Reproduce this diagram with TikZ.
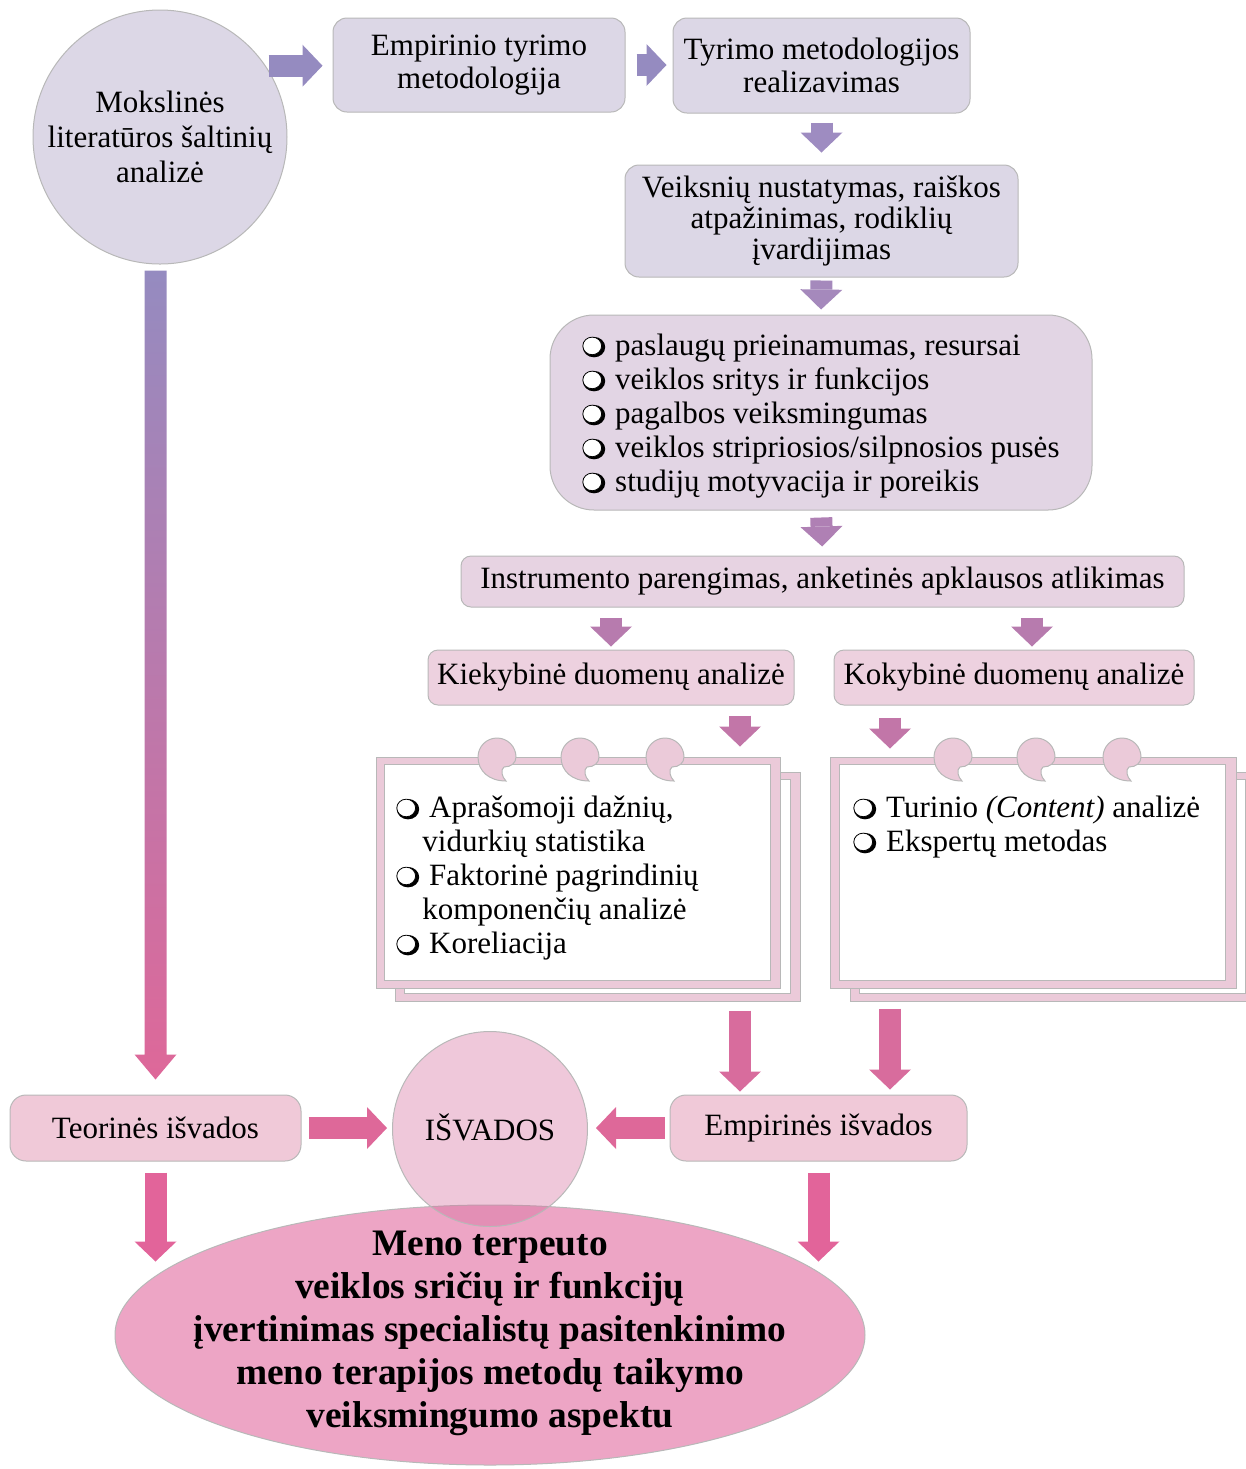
\documentclass[tikz,border=0pt]{standalone}
\usepackage{fontspec}
\setmainfont{Liberation Serif}
\usetikzlibrary{arrows.meta,shapes.geometric,calc}

\definecolor{lav}{HTML}{DCD7E6}
\definecolor{listfill}{HTML}{E2D5E4}
\definecolor{instrfill}{HTML}{E7D3E2}
\definecolor{kfill}{HTML}{EDD1DF}
\definecolor{padpink}{HTML}{EBCAD9}
\definecolor{teorfill}{HTML}{F0C9D8}
\definecolor{menofill}{HTML}{EDA5C5}
\definecolor{isvfill}{HTML}{D46A9A}
\definecolor{edge}{HTML}{B8B8B8}
\definecolor{arr1}{HTML}{958BC0}
\definecolor{arr2}{HTML}{9E8CC1}
\definecolor{arr3}{HTML}{A589BC}
\definecolor{arr4}{HTML}{AF80B4}
\definecolor{arr5}{HTML}{B77BAE}
\definecolor{arr6}{HTML}{C276A8}
\definecolor{arr7}{HTML}{D86C9D}
\definecolor{arr8}{HTML}{DE6899}
\definecolor{arr9}{HTML}{E2649A}

% shadowed circle bullet
\newcommand{\bul}{\tikz[x=1pt,y=1pt,baseline=-5pt]{\fill[black] (0.9,-0.6) ellipse[x radius=5.6,y radius=5.1];
  \filldraw[fill=white,draw=black,line width=0.4pt] (0,0) ellipse[x radius=4.7,y radius=4.4];}\hspace{5pt}}

\begin{document}
\begin{tikzpicture}[x=0.5pt,y=-0.5pt,
  box/.style={rectangle,rounded corners=7pt,draw=edge,line width=0.5pt,align=center,
    inner sep=0pt,font=\fontsize{15.5pt}{16.5pt}\selectfont},
  lav box/.style={box,fill=lav},
  list node/.style={inner sep=0pt,align=left,font=\fontsize{15.5pt}{17pt}\selectfont},
  pad/.style={rectangle,fill=padpink,draw=edge,line width=0.5pt,inner sep=0pt},
  curl/.style={fill=padpink,draw=edge,line width=0.5pt},
  blk/.style={line width=11pt,-{Triangle[length=10pt,width=21pt,line width=0pt]}}]

  \useasboundingbox (0,0) rectangle (1246,1469);

  % upper part
  \node[circle,fill=lav,draw=edge,line width=0.5pt,minimum size=127pt,inner sep=0pt,align=center,
    font=\fontsize{15.5pt}{17.5pt}\selectfont] (mok) at (160,137) {Mokslinės\\literatūros šaltinių\\analizė};
  \node[lav box,minimum width=146pt,minimum height=47pt] (emp) at (479,65) {Empirinio tyrimo\\metodologija};
  \node[lav box,minimum width=148.5pt,minimum height=47.5pt] (real) at (821.5,65.5) {Tyrimo metodologijos\\realizavimas};
  \node[lav box,minimum width=196.5pt,minimum height=56pt,font=\fontsize{15.5pt}{15.3pt}\selectfont] (veik) at (821.5,221)
    {Veiksnių nustatymas, raiškos\\atpažinimas, rodiklių\\įvardijimas};
  \node[box,fill=listfill,rounded corners=22pt,minimum width=271pt,minimum height=97.5pt] (sar) at (821,412.5) {};
  \node[list node] (sartxt) at ([yshift=-2pt]sar) {\bul paslaugų prieinamumas, resursai\\
    \bul veiklos sritys ir funkcijos\\
    \bul pagalbos veiksmingumas\\
    \bul veiklos stripriosios/silpnosios pusės\\
    \bul studijų motyvacija ir poreikis};
  \node[box,fill=instrfill,rounded corners=5pt,minimum width=361.5pt,minimum height=25.5pt] (instr) at (822.5,581.5)
    {Instrumento parengimas, anketinės apklausos atlikimas};
  \node[box,fill=kfill,rounded corners=5pt,minimum width=183pt,minimum height=27.5pt] (kiek) at (611,677.5) {Kiekybinė duomenų analizė};
  \node[box,fill=kfill,rounded corners=5pt,minimum width=180pt,minimum height=27.5pt] (kok) at (1014,677.5) {Kokybinė duomenų analizė};

  % note pads
  \node[pad,minimum width=202.5pt,minimum height=114.5pt] (padLb) at (597.5,886.5) {};
  \draw[fill=white,draw=edge,line width=0.5pt] ([shift={(5pt,-4pt)}]padLb.north west) rectangle ([shift={(-5pt,4pt)}]padLb.south east);
  \node[pad,minimum width=202pt,minimum height=115.5pt] (padL) at (578,872.5) {};
  \draw[fill=white,draw=edge,line width=0.5pt] ([shift={(4.5pt,-4pt)}]padL.north west) rectangle ([shift={(-5pt,4pt)}]padL.south east);
  \foreach \cx in {497,580,665}
    \draw[curl] (\cx-19,757) arc[start angle=180,end angle=0,radius=9.5pt]
      .. controls (\cx+19,763) and (\cx+14,767) .. (\cx+7,767)
      .. controls (\cx+3,770) and (\cx+5,777) .. (\cx+9,781)
      .. controls (\cx-8,781) and (\cx-19,771) .. cycle;
  \node[list node,anchor=north west] (padLtxt) at (396,796) {\bul Aprašomoji dažnių,\\
    \hspace*{13pt}vidurkių statistika\\
    \bul Faktorinė pagrindinių\\
    \hspace*{13pt}komponenčių analizė\\
    \bul Koreliacija};

  \node[pad,minimum width=202.5pt,minimum height=114.5pt] (padRb) at (1052.5,886.5) {};
  \draw[fill=white,draw=edge,line width=0.5pt] ([shift={(5pt,-4pt)}]padRb.north west) rectangle ([shift={(-5pt,4pt)}]padRb.south east);
  \node[pad,minimum width=203pt,minimum height=115.5pt] (padR) at (1033,872.5) {};
  \draw[fill=white,draw=edge,line width=0.5pt] ([shift={(5pt,-4pt)}]padR.north west) rectangle ([shift={(-5.5pt,4pt)}]padR.south east);
  \foreach \cx in {953,1036,1122}
    \draw[curl] (\cx-19,757) arc[start angle=180,end angle=0,radius=9.5pt]
      .. controls (\cx+19,763) and (\cx+14,767) .. (\cx+7,767)
      .. controls (\cx+3,770) and (\cx+5,777) .. (\cx+9,781)
      .. controls (\cx-8,781) and (\cx-19,771) .. cycle;
  \node[list node,anchor=north west] (padRtxt) at (853,796) {\bul Turinio \textit{(Content)} analizė\\
    \bul Ekspertų metodas};

  % lower part
  \node[box,fill=teorfill,rounded corners=8pt,minimum width=145.5pt,minimum height=33pt] (teor) at (155.5,1128) {Teorinės išvados};
  \node[box,fill=teorfill,rounded corners=8pt,minimum width=148.5pt,minimum height=33pt] (emps) at (818.5,1128) {Empirinės išvados};
  \node[ellipse,fill=menofill,draw=edge,line width=0.5pt,minimum width=375pt,minimum height=130pt,inner sep=0pt] (meno) at (490,1335) {};
  \node[align=center,inner sep=0pt,font=\fontsize{18.7pt}{21.5pt}\selectfont\bfseries] (menotxt) at ([yshift=1pt]meno)
    {Meno terpeuto\\veiklos sričių ir funkcijų\\įvertinimas specialistų pasitenkinimo\\meno terapijos metodų taikymo\\veiksmingumo aspektu};
  \node[circle,fill=isvfill,fill opacity=0.37,text opacity=1,draw=edge,line width=0.5pt,minimum size=97.5pt,inner sep=0pt,
    font=\fontsize{15.5pt}{16.5pt}\selectfont] (isv) at (490,1129) {\raisebox{1.5pt}{IŠVADOS}};

  % block arrows
  \coordinate (aL) at (740,0);
  \coordinate (aR) at (890,0);
  \coordinate (aK) at (1032,0);
  \coordinate (lt) at ($(teor.north |- mok.south)+(0,6)$);
  \coordinate (lb) at ($(teor.north)+(0,-15)$);

  \shade[top color=arr1,bottom color=arr8]
    ([xshift=-5.5pt]lt) -- ([xshift=5.5pt]lt) -- ([xshift=5.5pt,yshift=12.5pt]lb) -- ([xshift=10.5pt,yshift=12.5pt]lb)
    -- (lb) -- ([xshift=-10.5pt,yshift=12.5pt]lb) -- ([xshift=-5.5pt,yshift=12.5pt]lb) -- cycle;

  \draw[blk,draw=arr1,shorten <=1.5pt,shorten >=5pt] (mok.34) -- (mok.34 -| emp.west);
  \draw[blk,draw=arr1,shorten <=5.5pt,shorten >=3pt] (emp.east) -- (emp.east -| real.west);
  \draw[blk,draw=arr2,shorten <=4.5pt,shorten >=6pt] (real.south) -- (veik.north);
  \draw[blk,draw=arr3,shorten <=1.5pt,shorten >=2.5pt] (veik.south) -- (sar.north);
  \draw[blk,draw=arr4,shorten <=3.5pt,shorten >=4.5pt] (sar.south) -- (instr.north);
  \draw[blk,draw=arr5,shorten <=5pt,shorten >=1.5pt] (instr.south -| kiek.north) -- (kiek.north);
  \draw[blk,draw=arr5,shorten <=5pt,shorten >=1.5pt] (instr.south -| aK) -- (kok.north -| aK);
  \draw[blk,draw=arr6,shorten <=5pt,shorten >=5pt] (kiek.south -| aL) -- (padL.north -| aL);
  \draw[blk,draw=arr6,shorten <=6pt,shorten >=4pt] (kok.south -| aR) -- (padR.north -| aR);
  \draw[blk,draw=arr7,shorten <=4.5pt,shorten >=1.5pt] (padLb.south -| aL) -- (emps.north -| aL);
  \draw[blk,draw=arr7,shorten <=3.5pt,shorten >=2.5pt] (padRb.south -| aR) -- (emps.north -| aR);
  \draw[blk,draw=arr8,shorten <=3.5pt,shorten >=2.5pt] (teor.east) -- (teor.east -| isv.west);
  \draw[blk,draw=arr8,shorten <=2.5pt,shorten >=4pt] (emps.west) -- (emps.west -| isv.east);
  \draw[blk,draw=arr9,shorten <=5.5pt] (teor.south) -- ($(teor.south |- meno.north)+(0,57)$);
  \draw[blk,draw=arr9,shorten <=5.5pt] (emps.south) -- ($(emps.south |- meno.north)+(0,57)$);

\end{tikzpicture}
\end{document}
